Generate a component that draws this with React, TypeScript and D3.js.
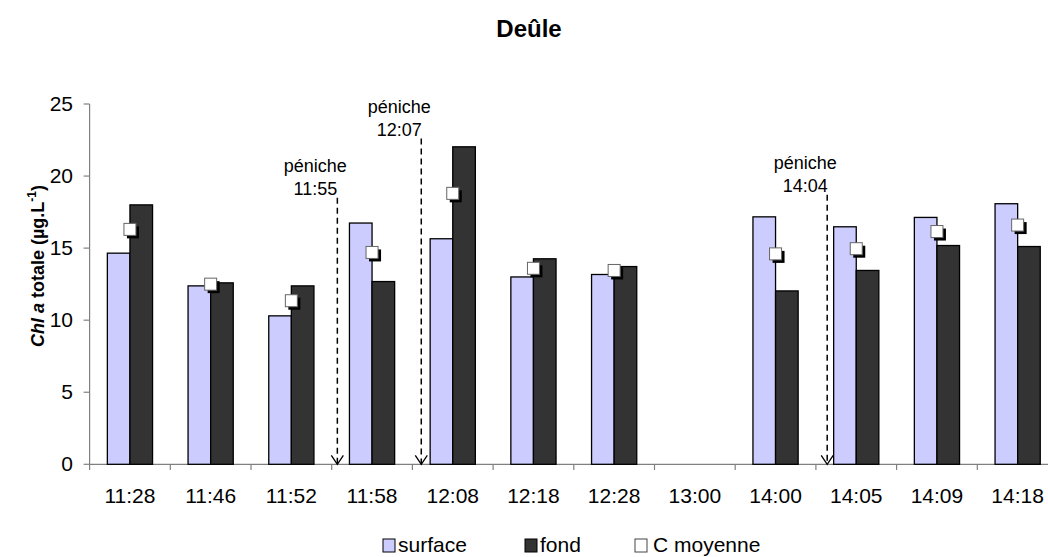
import React from "react";
import * as d3 from "d3";

const categories = ["11:28", "11:46", "11:52", "11:58", "12:08", "12:18", "12:28", "13:00", "14:00", "14:05", "14:09", "14:18"];
const surface: (number | null)[] = [14.65, 12.38, 10.3, 16.74, 15.65, 13.0, 13.17, null, 17.17, 16.48, 17.13, 18.08];
const fond: (number | null)[] = [18.0, 12.59, 12.38, 12.68, 22.03, 14.26, 13.72, null, 12.03, 13.45, 15.18, 15.11];
const cMoyenne: (number | null)[] = [16.3, 12.5, 11.35, 14.7, 18.8, 13.6, 13.45, null, 14.6, 14.96, 16.15, 16.6];
const yTicks = [0, 5, 10, 15, 20, 25];

const pecheTimes = ["11:55", "12:07", "14:04"];
const pecheIndex = [2.57, 3.61, 8.64];
const pecheTop = [18.5, 22.6, 18.7];

const W = 1048;
const H = 557;
const FONT = "Arial, 'Liberation Sans', sans-serif";

export default function App() {
  const x0 = 89.6;
  const band = 80.7;
  const x = d3.scaleBand<string>().domain(categories).range([x0, x0 + band * categories.length]).padding(0);
  const xi = d3.scaleLinear().domain([0, categories.length]).range([x0, x0 + band * categories.length]);
  const y = d3.scaleLinear().domain([0, 25]).range([464.3, 104]);
  const bw = band * 0.28;
  const ms = 12;

  return (
    <svg width={W} height={H} style={{ position: "absolute", left: 0, top: 0, background: "#fff" }} fontFamily={FONT}>
      <rect x={0} y={0} width={W} height={H} fill="#fff" />
      {/* title */}
      <text x={529} y={37} textAnchor="middle" fontSize={24} fontWeight="bold" fill="#000">Deûle</text>

      {/* y axis */}
      <line x1={x0} x2={x0} y1={y(25)} y2={470} stroke="#808080" strokeWidth={1.2} />
      {yTicks.map((t) => (
        <g key={t}>
          <line x1={x0 - 6} x2={x0} y1={y(t)} y2={y(t)} stroke="#808080" strokeWidth={1.2} />
          <text x={73} y={y(t) + 7} textAnchor="end" fontSize={21} fill="#000">{t}</text>
        </g>
      ))}
      <text transform={`translate(44,266) rotate(-90)`} textAnchor="middle" fontSize={18} fontWeight="bold" fill="#000">
        <tspan fontStyle="italic">Chl a</tspan>
        <tspan> totale (µg.L</tspan>
        <tspan fontSize={12} dy={-8}>-1</tspan>
        <tspan dy={8}>)</tspan>
      </text>

      {/* x axis */}
      <line x1={x0} x2={W} y1={y(0)} y2={y(0)} stroke="#808080" strokeWidth={1.2} />
      {categories.map((c, i) => (
        <g key={c}>
          {i > 0 && <line x1={x(c)!} x2={x(c)!} y1={y(0)} y2={470} stroke="#808080" strokeWidth={1.2} />}
          <text x={x(c)! + x.bandwidth() / 2} y={503} textAnchor="middle" fontSize={21} fill="#000">{c}</text>
        </g>
      ))}

      {/* bars */}
      {categories.map((c, i) => {
        const cx = x(c)! + x.bandwidth() / 2;
        const s = surface[i];
        const f = fond[i];
        return (
          <g key={"b" + c}>
            {s != null && (
              <rect x={cx - bw} y={y(s)} width={bw} height={y(0) - y(s)} fill="#ccccff" stroke="#000" strokeWidth={1.3} />
            )}
            {f != null && (
              <rect x={cx} y={y(f)} width={bw} height={y(0) - y(f)} fill="#333333" stroke="#000" strokeWidth={1.3} />
            )}
          </g>
        );
      })}

      {/* markers */}
      {categories.map((c, i) => {
        const m = cMoyenne[i];
        if (m == null) return null;
        const cx = x(c)! + x.bandwidth() / 2;
        return (
          <g key={"m" + c}>
            <rect x={cx - ms / 2 + 3} y={y(m) - ms / 2 + 3} width={ms} height={ms} fill="#000" />
            <rect x={cx - ms / 2} y={y(m) - ms / 2} width={ms} height={ms} fill="#fff" stroke="#666" strokeWidth={1} />
          </g>
        );
      })}

      {/* péniche annotations */}
      {pecheTimes.map((t, i) => {
        const lx = xi(pecheIndex[i] + 0.5);
        const top = y(pecheTop[i]);
        return (
          <g key={"p" + t}>
            <line x1={lx} x2={lx} y1={top} y2={y(0)} stroke="#000" strokeWidth={1.5} strokeDasharray="6,4" />
            <path d={`M${lx - 6},${y(0) - 9} L${lx},${y(0)} L${lx + 6},${y(0) - 9}`} fill="none" stroke="#000" strokeWidth={1.3} />
            <text x={lx - 22} y={top - 26} textAnchor="middle" fontSize={18} fill="#000">péniche</text>
            <text x={lx - 22} y={top - 3} textAnchor="middle" fontSize={18} fill="#000">{t}</text>
          </g>
        );
      })}

      {/* legend */}
      <rect x={383} y={539} width={12} height={13} fill="#ccccff" stroke="#000" strokeWidth={1} />
      <text x={398} y={552} fontSize={21} fill="#000">surface</text>
      <rect x={525} y={539} width={12} height={13} fill="#333333" stroke="#000" strokeWidth={1} />
      <text x={540} y={552} fontSize={21} fill="#000">fond</text>
      <rect x={635} y={539} width={12} height={13} fill="#fff" stroke="#444" strokeWidth={1} />
      <text x={653} y={552} fontSize={21} fill="#000">C moyenne</text>
    </svg>
  );
}
